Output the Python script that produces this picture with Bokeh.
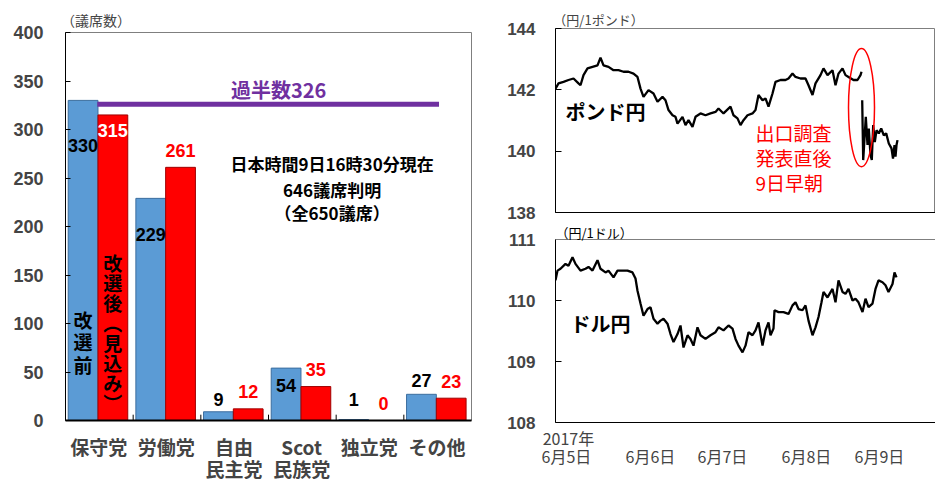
from bokeh.plotting import figure
from bokeh.layouts import row, column
from bokeh.models import Range1d, FixedTicker, Label, LinearAxis, Span
from bokeh.embed import file_html
from bokeh.resources import INLINE

nan = float("nan")

# ---------------- data ----------------
parties = ["保守党", "労働党", "自由\n民主党", "Scot\n民族党", "独立党", "その他"]
seats_before = [330, 229, 9, 54, 1, 27]
seats_after = [315, 261, 12, 35, 0, 23]
majority = 326
seat_ticks = [0, 50, 100, 150, 200, 250, 300, 350, 400]

# GBP/JPY (time index, yen per pound); NaN marks the gap before the exit poll
gbp_t = [0, 3, 8, 13, 18, 23, 25, 28, 32, 37, 42, 45, 48, 53, 58, 63, 68, 73, 78, 82,
         85, 88, 93, 98, 102, 107, 110, 113, 117, 120, 122, 127, 130, 133, 137, 140, 145, 150, 155, 160,
         163, 168, 175, 178, 182, 185, 188, 192, 197, 200, 203, 207, 210, 213, 217, 220, 225, 230, 233, 237,
         240, 245, 250, 253, 257, 260, 265, 268, 272, 277, 280, 283, 287, 290, 293, 298, 302, 305, 306,
         306.3,
         306.7, 307.7, 309, 310.3, 312, 313.3, 315, 316.3, 317.7, 319.3, 321, 323.3, 325.7, 328.3, 330.7,
         333.3, 336, 337.5, 339, 340, 341, 342]
gbp_v = [142.04, 142.21, 142.26, 142.32, 142.37, 142.21, 142.15, 142.48, 142.70, 142.75,
         142.80, 143.05, 142.80, 142.75, 142.64, 142.64, 142.59, 142.59, 142.53, 142.42,
         142.04, 141.77, 141.99, 141.88, 141.61, 141.77, 141.66, 141.34, 141.17, 141.12,
         140.90, 141.12, 140.85, 141.01, 140.79, 141.12, 141.23, 141.17, 141.23, 141.28,
         141.39, 141.23, 141.45, 141.17, 141.07, 140.85, 141.01, 141.17, 141.23, 141.34,
         141.83, 141.66, 141.72, 141.45, 141.88, 142.26, 142.32, 142.32, 142.37, 142.53,
         142.42, 142.37, 142.37, 142.15, 141.83, 142.21, 142.48, 142.70, 142.48, 142.64,
         142.15, 142.53, 142.70, 142.48, 142.42, 142.32, 142.32, 142.48, 142.59,
         nan,
         141.66, 139.71, 140.41, 141.12, 140.20, 140.74, 139.87, 139.71, 140.85, 140.30, 140.68,
         140.58, 140.74, 140.52, 140.58, 140.25, 140.09, 139.76, 140.20, 139.82, 140.20, 140.36]

# USD/JPY
usd_t = [0, 2, 5, 10, 13, 17, 20, 25, 30, 33, 37, 42, 45, 50, 53, 58, 62, 67, 72, 77,
         80, 82, 85, 88, 92, 95, 98, 102, 105, 108, 112, 115, 118, 122, 125, 128, 132, 135, 138, 142,
         145, 150, 155, 160, 163, 168, 173, 177, 180, 183, 187, 190, 193, 197, 200, 203, 207, 210, 213, 215,
         218, 219, 223, 228, 233, 237, 240, 243, 247, 250, 253, 257, 260, 263, 266, 268, 272, 277, 280, 283,
         287, 290, 293, 297, 300, 303, 307, 310, 313, 317, 320, 323, 327, 330, 333, 337, 339, 341]
usd_v = [110.33, 110.49, 110.52, 110.60, 110.57, 110.71, 110.60, 110.49, 110.52, 110.55,
         110.49, 110.66, 110.52, 110.46, 110.49, 110.38, 110.49, 110.49, 110.49, 110.46,
         110.36, 110.16, 109.95, 109.75, 109.86, 109.89, 109.70, 109.62, 109.67, 109.70,
         109.62, 109.45, 109.32, 109.45, 109.59, 109.23, 109.43, 109.37, 109.26, 109.56,
         109.43, 109.37, 109.43, 109.48, 109.56, 109.51, 109.59, 109.54, 109.37, 109.26,
         109.15, 109.26, 109.48, 109.43, 109.51, 109.64, 109.26, 109.51, 109.64, 109.43,
         109.54, 109.84, 109.81, 109.81, 109.78, 109.92, 109.97, 109.86, 109.84, 109.92,
         109.67, 109.43, 109.56, 109.73, 109.97, 110.14, 110.05, 110.19, 109.97, 110.33,
         110.14, 110.11, 110.19, 110.00, 110.03, 109.97, 109.81, 110.03, 109.89, 109.95,
         110.19, 110.33, 110.30, 110.25, 110.14, 110.27, 110.46, 110.38]

year_tick = 13
year_label = "2017年"
date_ticks = [11, 95, 167, 251, 324]
date_labels = ["6月5日", "6月6日", "6月7日", "6月8日", "6月9日"]
gbp_ticks = [138, 140, 142, 144]
usd_ticks = [108, 109, 110, 111]

# ---------------- styles ----------------
JP = "Noto Sans CJK JP"
NUM = "Liberation Sans"
BLUE = "#5B9BD5"
RED = "#FF0000"
PURPLE = "#7030A0"
FRAME = "#7F7F7F"


def lab(p, x, y, text, size, color="black", bold=False, font=JP, align="center",
        baseline="middle", lh=1.0):
    p.add_layout(Label(x=x, y=y, text=text, text_font=font, text_font_size=f"{size}px",
                       text_font_style="bold" if bold else "normal", text_color=color,
                       text_align=align, text_baseline=baseline, text_line_height=lh))


def style_label_axis(ax, ticks, labels, size, bold, standoff, line=False):
    ax.ticker = FixedTicker(ticks=ticks)
    ax.major_label_overrides = {t: s for t, s in zip(ticks, labels)}
    if not line:
        ax.axis_line_color = None
    ax.major_tick_line_color = None
    ax.major_tick_in = 0
    ax.major_tick_out = 0
    ax.minor_tick_line_color = None
    ax.minor_tick_in = 0
    ax.minor_tick_out = 0
    ax.major_label_text_font = JP
    ax.major_label_text_font_size = f"{size}px"
    ax.major_label_text_font_style = "bold" if bold else "normal"
    ax.major_label_standoff = standoff
    return ax


# ---------------- left: seats ----------------
p1 = figure(width=500, height=484, x_range=Range1d(0, 6), y_range=Range1d(0, 400),
            output_backend="svg", toolbar_location=None,
            min_border_left=65, min_border_right=29, min_border_top=32, min_border_bottom=64)
p1.grid.visible = False
p1.outline_line_color = FRAME

n = len(parties)
xb = [i + 0.26 for i in range(n)]
xr = [i + 0.70 for i in range(n)]
p1.vbar(x=xb, top=seats_before, bottom=0, width=0.44, fill_color=BLUE, line_color="#3C6E9E", line_width=1)
p1.vbar(x=xr, top=seats_after, bottom=0, width=0.44, fill_color=RED, line_color="#A00000", line_width=1)
p1.line(x=[0.47, 5.52], y=[majority, majority], line_width=5, line_color=PURPLE)
# small inner tick marks between the party groups
p1.segment(x0=list(range(1, n)), y0=[0] * (n - 1), x1=list(range(1, n)), y1=[6] * (n - 1),
           line_color="black", line_width=1)

ya = p1.left[0]
ya.ticker = FixedTicker(ticks=seat_ticks)
ya.major_tick_in = 5
ya.major_tick_out = 0
ya.minor_tick_line_color = None
ya.major_label_text_font = NUM
ya.major_label_text_font_style = "bold"
ya.major_label_text_font_size = "18px"
ya.major_label_standoff = 22
ya.axis_line_color = "black"

line1 = [s.split("\n")[0] for s in parties]
line2 = [s.split("\n")[1] if "\n" in s else "" for s in parties]
cat_ticks = [i + 0.49 for i in range(n)]
xa = p1.below[0]
style_label_axis(xa, cat_ticks, line1, 19, True, 12, line=True)
xa.axis_line_width = 2
xa.axis_line_color = "black"
t2 = [t for t, s in zip(cat_ticks, line2) if s]
s2 = [s for s in line2 if s]
p1.add_layout(style_label_axis(LinearAxis(), t2, s2, 19, True, -8), "below")
p1.add_layout(style_label_axis(LinearAxis(), [0.45], ["（議席数）"], 14, False, 3), "above")

# value labels (offsets in seats, layout only)
blue_dy = [-46.5, -37, 12.6, -18, 20.6, 14]
red_dy = [-16, 17, 18, 17.6, 17.5, 17]
for i in range(n):
    lab(p1, xb[i], seats_before[i] + blue_dy[i], str(seats_before[i]), 18, "black", True, NUM)
    lab(p1, xr[i], seats_after[i] + red_dy[i], str(seats_after[i]), 18,
        "white" if red_dy[i] < 0 else RED, True, NUM)

lab(p1, 0.26, 81, "改\n選\n前", 19, "black", True, JP, lh=0.84)
lab(p1, 0.70, 91, "改\n選\n後\n︵\n見\n込\nみ\n︶", 19, "black", True, JP, lh=0.74)
lab(p1, 3.15, 341, "過半数" + str(majority), 20, PURPLE, True, JP)
lab(p1, 3.94, 265, "日本時間9日16時30分現在", 17, "black", True, JP)
lab(p1, 3.94, 238, "646議席判明", 17, "black", True, JP)
lab(p1, 3.94, 214, "（全650議席）", 17, "black", True, JP)


# ---------------- right: FX ----------------
def fx_fig(h, yr, ticks, top, bottom):
    f = figure(width=435, height=h, x_range=Range1d(0, 380), y_range=Range1d(*yr),
               output_backend="svg", toolbar_location=None,
               min_border_left=55, min_border_right=0, min_border_top=top, min_border_bottom=bottom)
    f.grid.visible = False
    f.outline_line_color = FRAME
    y = f.left[0]
    y.ticker = FixedTicker(ticks=ticks)
    y.major_tick_in = 6
    y.major_tick_out = 0
    y.minor_tick_line_color = None
    y.major_label_text_font = NUM
    y.major_label_text_font_style = "bold"
    y.major_label_text_font_size = "17px"
    y.major_label_standoff = 20
    y.axis_line_color = "black"
    x = f.below[0]
    x.ticker = FixedTicker(ticks=[])
    x.major_tick_in = 0
    x.major_tick_out = 0
    x.minor_tick_line_color = None
    x.major_label_standoff = 0
    x.axis_line_color = "black"
    return f


p2 = fx_fig(222, (138, 144), gbp_ticks, 28, 10)
p2.line(x=gbp_t, y=gbp_v, line_color="black", line_width=2.3)
p2.ellipse(x=[306], y=[141.42], width=26, height=3.85, fill_color=None, line_color=RED, line_width=1.5)
p2.add_layout(style_label_axis(LinearAxis(), [43], ["（円/1ポンド）"], 13, False, 0), "above")
lab(p2, 50, 141.29, "ポンド円", 20, "black", True, JP)
lab(p2, 200, 140.61, "出口調査", 19, RED, False, JP, align="left")
lab(p2, 200, 139.79, "発表直後", 19, RED, False, JP, align="left")
lab(p2, 200, 138.98, "9日早朝", 19, RED, False, JP, align="left")

# the USD frame reaches a little above 111 so that the unit label fits inside it
usd_top = 111 + 17 / 61
p3 = fx_fig(262, (108, usd_top), usd_ticks, 0, 62)
p3.outline_line_color = None
p3.left[0].bounds = (usd_ticks[0], usd_ticks[-1])
p3.add_layout(Span(location=usd_ticks[-1], dimension="width", line_color=FRAME, line_width=1))
p3.line(x=usd_t, y=usd_v, line_color="black", line_width=2.3)
style_label_axis(p3.below[0], [year_tick], [year_label], 16, False, 3, line=True)
p3.below[0].axis_line_color = "black"
p3.add_layout(style_label_axis(LinearAxis(), date_ticks, date_labels, 16, False, -9), "below")
lab(p3, 0, 111.115, "（円/1ドル）", 13, "black", False, JP, align="left")
lab(p3, 45, 109.62, "ドル円", 20, "black", True, JP)

layout = row(p1, column(p2, p3))
open("out.html", "w").write(file_html(layout, INLINE))
